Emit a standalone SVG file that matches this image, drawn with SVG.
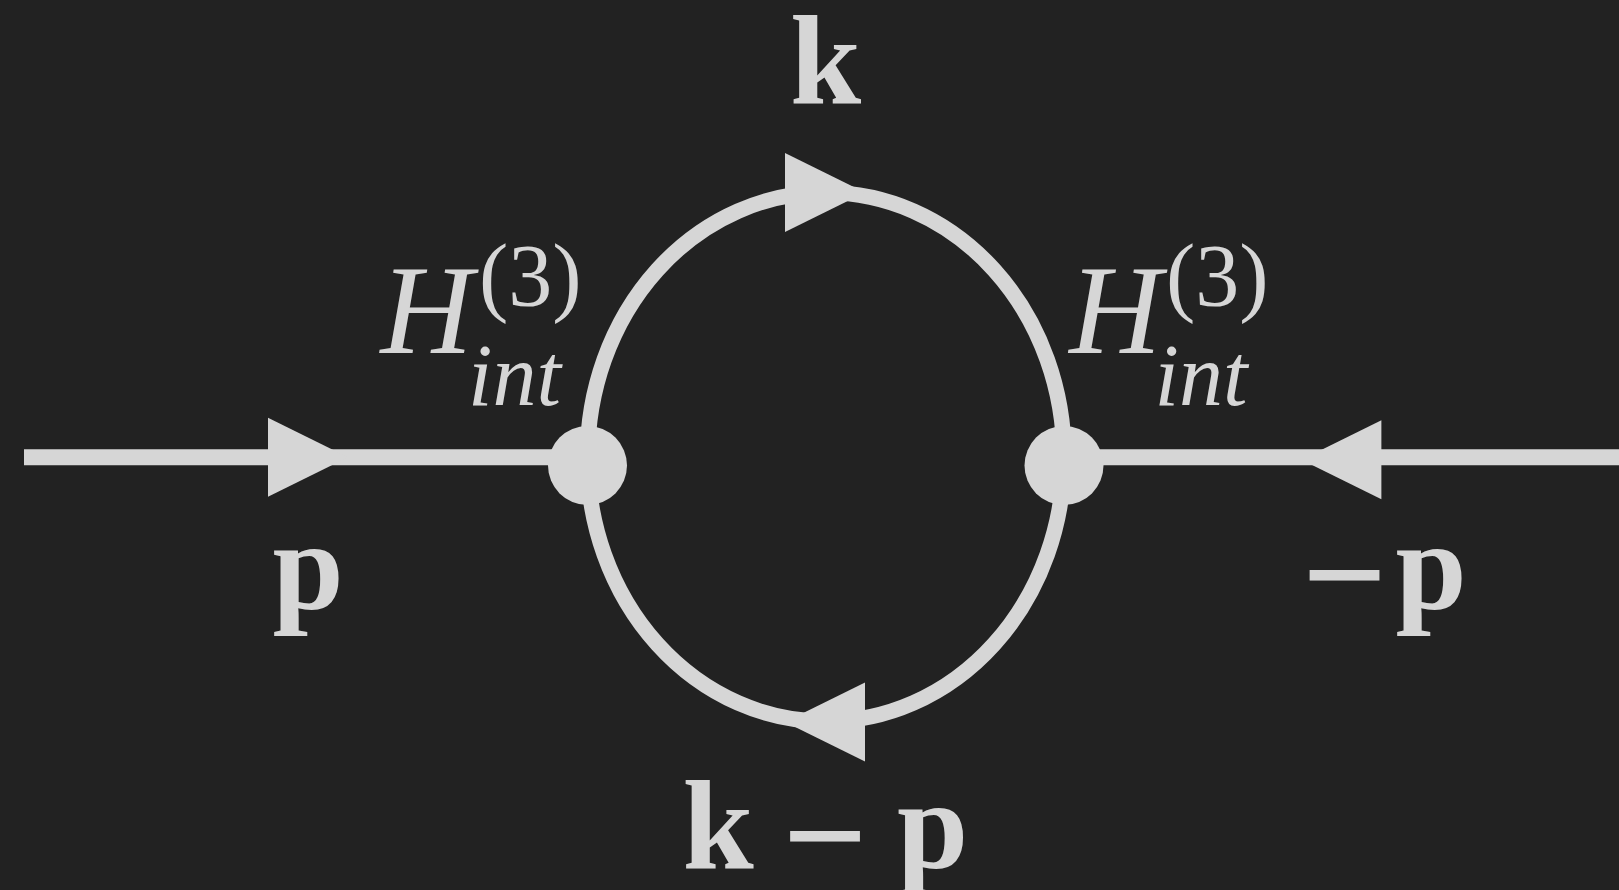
<svg xmlns="http://www.w3.org/2000/svg" xmlns:xlink="http://www.w3.org/1999/xlink" width="1619" height="890" viewBox="0 0 1619 890">
  <style>
    .ln { fill: none; stroke: #d6d6d6; stroke-width: 16; }
    .arc { fill: none; stroke: #d6d6d6; stroke-width: 15.5; }
    .fg { fill: #d6d6d6; }
    .bold { font-family: "Liberation Serif", "Times New Roman", serif; font-weight: bold; font-size: 128px; fill: #d6d6d6; text-anchor: middle; }
    .minus { font-family: "Liberation Serif", "Times New Roman", serif; font-weight: bold; font-size: 150px; fill: #d6d6d6; text-anchor: middle; }
    .it { font-family: "Liberation Serif", "Times New Roman", serif; font-style: italic; font-size: 128px; fill: #d6d6d6; text-anchor: middle; }
    .sup { font-family: "Liberation Serif", "Times New Roman", serif; font-size: 88px; fill: #d6d6d6; text-anchor: middle; }
    .sub { font-family: "Liberation Serif", "Times New Roman", serif; font-style: italic; font-size: 88px; fill: #d6d6d6; text-anchor: middle; }
  </style>
  <defs>
    <polygon id="arr" points="-40,-39.5 40,0 -40,39.5" fill="#d6d6d6"/>
  </defs>
  <rect x="0" y="0" width="1619" height="890" fill="#222222"/>

  <g id="connectors">
    <line class="ln" x1="24" y1="457.3" x2="560" y2="457.3"/>
    <line class="ln" x1="1090" y1="457.3" x2="1619" y2="457.3"/>
    <path class="arc" d="M 587.5 457 A 238.25 264.5 0 0 1 1064 457"/>
    <path class="arc" d="M 1064 457 A 238.25 264.5 0 0 1 587.5 457"/>
    <use xlink:href="#arr" transform="translate(308 457.3)"/>
    <use xlink:href="#arr" transform="translate(1341.4 459.8) rotate(180)"/>
    <use xlink:href="#arr" transform="translate(825 192.5)"/>
    <use xlink:href="#arr" transform="translate(825 722) rotate(180)"/>
  </g>

  <g id="vertex-left">
    <circle class="fg" cx="587.5" cy="465.5" r="39.5"/>
    <text class="it" x="426.7" y="353.3">H</text>
    <text class="sup" x="530.3" y="305">(3)</text>
    <text class="sub" x="514.5" y="405">int</text>
  </g>

  <g id="vertex-right">
    <circle class="fg" cx="1064" cy="465.5" r="39.5"/>
    <text class="it" x="1115.5" y="353.3">H</text>
    <text class="sup" x="1217.3" y="305">(3)</text>
    <text class="sub" x="1201" y="405">int</text>
  </g>

  <g id="label-k">
    <text class="bold" x="825.5" y="102.7">k</text>
  </g>
  <g id="label-p">
    <text class="bold" x="308.2" y="608.5">p</text>
  </g>
  <g id="label-minus-p">
    <text class="minus" x="1344.6" y="625">−</text>
    <text class="bold" x="1431" y="608.5">p</text>
  </g>
  <g id="label-k-minus-p">
    <text class="bold" x="718" y="868.3">k</text>
    <text class="minus" x="825" y="886">−</text>
    <text class="bold" x="932.5" y="868.3">p</text>
  </g>
</svg>
